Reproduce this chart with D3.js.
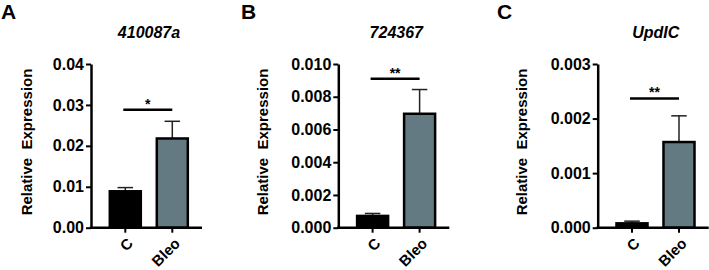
<!DOCTYPE html>
<html>
<head>
<meta charset="utf-8">
<script src="https://cdn.jsdelivr.net/npm/d3@7"></script>
<style>
  body { margin: 0; background: #fff; }
  svg text { font-family: "Liberation Sans", Arial, sans-serif; font-weight: bold; }
</style>
</head>
<body>
<div id="chart"></div>
<script>
// values
const groups = ["C", "Bleo"];
const panelLetters = ["A", "B", "C"];
const genes = ["410087a", "724367", "UpdIC"];
const meanA = [0.0089, 0.0218];
const semA = [0.0009, 0.0042];
const meanB = [0.00072, 0.00696];
const semB = [0.00015, 0.00148];
const meanC = [0.00008, 0.00157];
const semC = [0.00004, 0.00048];
const yMaxes = [0.04, 0.010, 0.003];
const yTicksA = [0, 0.01, 0.02, 0.03, 0.04];
const yTicksB = [0, 0.002, 0.004, 0.006, 0.008, 0.010];
const yTicksC = [0, 0.001, 0.002, 0.003];
const sigLabels = ["*", "**", "**"];
const sigLevels = [0.0288, 0.0091, 0.00237];

const W = 709, H = 270;
const Y_TOP = 64, Y_BOTTOM = 227.7;
const AXIS_LEN = 111;
const BAR_FILL = ["#000000", "#647a82"];

const panels = [
    {letter: panelLetters[0], gene: genes[0], mean: meanA, sem: semA, yMax: yMaxes[0], ticks: yTicksA, fmt: ".2f", sig: sigLabels[0], sigY: sigLevels[0], axisX: 91, letterX: 1, labelX: 27},
    {letter: panelLetters[1], gene: genes[1], mean: meanB, sem: semB, yMax: yMaxes[1], ticks: yTicksB, fmt: ".3f", sig: sigLabels[1], sigY: sigLevels[1], axisX: 338.3, letterX: 241, labelX: 263},
    {letter: panelLetters[2], gene: genes[2], mean: meanC, sem: semC, yMax: yMaxes[2], ticks: yTicksC, fmt: ".3f", sig: sigLabels[2], sigY: sigLevels[2], axisX: 597.7, letterX: 497, labelX: 522}
];

const svg = d3.select("#chart").append("svg")
    .attr("width", W)
    .attr("height", H);

panels.forEach(function (p) {
    const y = d3.scaleLinear().domain([0, p.yMax]).range([Y_BOTTOM, Y_TOP]);
    const x = d3.scaleBand().domain(groups)
        .range([p.axisX + 10.8, p.axisX + 104.8])
        .paddingInner(0.34).paddingOuter(0.17);

    // panel letter + title
    svg.append("text")
        .attr("x", p.letterX).attr("y", 19)
        .style("font-size", "21px")
        .text(p.letter);

    svg.append("text")
        .attr("x", p.axisX + 58).attr("y", 38)
        .attr("text-anchor", "middle")
        .style("font-size", "16px")
        .style("font-style", "italic")
        .text(p.gene);

    // y axis
    const yAxis = svg.append("g")
        .attr("transform", `translate(${p.axisX},0)`)
        .call(d3.axisLeft(y).tickValues(p.ticks).tickFormat(d3.format(p.fmt)).tickSize(5).tickPadding(2).tickSizeOuter(0));
    yAxis.select(".domain").attr("stroke-width", 2.5);
    yAxis.selectAll(".tick line").attr("stroke-width", 2);
    yAxis.selectAll(".tick text").style("font-size", "16px").attr("fill", "#000");

    svg.append("text")
        .attr("transform", `translate(${p.labelX},142) rotate(-90)`)
        .attr("text-anchor", "middle")
        .attr("dy", "0.35em")
        .style("font-size", "15px")
        .style("white-space", "pre")
        .attr("xml:space", "preserve")
        .text("Relative  Expression");

    // error bars (upper only, drawn behind bars)
    const err = svg.append("g");
    groups.forEach(function (g, i) {
        const cx = x(g) + x.bandwidth() / 2;
        const capW = x.bandwidth() / 2;
        err.append("line")
            .attr("x1", cx).attr("x2", cx)
            .attr("y1", y(p.mean[i])).attr("y2", y(p.mean[i] + p.sem[i]))
            .attr("stroke", "#222").attr("stroke-width", 1.5);
        err.append("line")
            .attr("x1", cx - capW / 2).attr("x2", cx + capW / 2)
            .attr("y1", y(p.mean[i] + p.sem[i])).attr("y2", y(p.mean[i] + p.sem[i]))
            .attr("stroke", "#222").attr("stroke-width", 1.5);
    });

    // bars
    svg.append("g").selectAll("rect")
        .data(groups)
        .join("rect")
        .attr("x", d => x(d))
        .attr("width", x.bandwidth())
        .attr("y", (d, i) => y(p.mean[i]))
        .attr("height", (d, i) => Y_BOTTOM - y(p.mean[i]))
        .attr("fill", (d, i) => BAR_FILL[i])
        .attr("stroke", "#000")
        .attr("stroke-width", 2.5);

    // x axis
    svg.append("line")
        .attr("x1", p.axisX - 1.25).attr("x2", p.axisX + AXIS_LEN)
        .attr("y1", Y_BOTTOM).attr("y2", Y_BOTTOM)
        .attr("stroke", "#000").attr("stroke-width", 2.5);
    const xAxis = svg.append("g")
        .attr("transform", `translate(0,${Y_BOTTOM})`)
        .call(d3.axisBottom(x).tickSize(5).tickSizeOuter(0));
    xAxis.select(".domain").remove();
    xAxis.selectAll(".tick line").attr("stroke-width", 2);
    xAxis.selectAll(".tick text")
        .style("font-size", "15px")
        .attr("fill", "#000")
        .attr("text-anchor", "end")
        .attr("transform", "translate(5,13) rotate(-45)")
        .attr("dy", "0.35em")
        .attr("y", 0)
        .attr("x", 0);

    // significance
    const x1 = x(groups[0]) + x.bandwidth() / 2 - 2;
    const x2 = x(groups[1]) + x.bandwidth() / 2;
    svg.append("line")
        .attr("x1", x1).attr("x2", x2)
        .attr("y1", y(p.sigY)).attr("y2", y(p.sigY))
        .attr("stroke", "#000").attr("stroke-width", 2.5);
    svg.append("text")
        .attr("x", (x1 + x2) / 2).attr("y", y(p.sigY) - 1)
        .attr("text-anchor", "middle")
        .style("font-size", "14px")
        .text(p.sig);
});
</script>
</body>
</html>
